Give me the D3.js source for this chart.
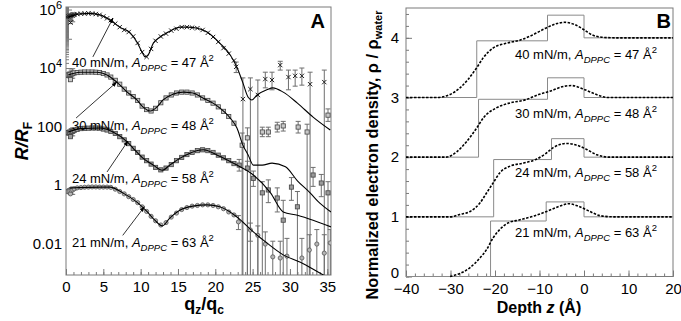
<!DOCTYPE html>
<html>
<head>
<meta charset="utf-8">
<script src="https://cdn.jsdelivr.net/npm/d3@7"></script>
<style>
  body { margin: 0; background: #fff; }
  svg { display: block; }
  text { font-family: Arial, "Liberation Sans", sans-serif; }
</style>
</head>
<body>
<svg id="chart" width="681" height="321"></svg>
<script>
// ---------- panel A : R/R_F vs qz/qc ----------
const qTicksA = [0, 5, 10, 15, 20, 25, 30, 35];
const rTicksA = [0.01, 1, 100, 1e4, 1e6];

const pressures = ["40", "30", "24", "21"];
const areas = ["47", "48", "58", "63"];

// model fits (q, R/R_F)
const fit40 = [[0.3,5.5e5],[1.9,7.1e5],[3.2,7.4e5],[4.6,6.5e5],[5.9,4.4e5],[7.2,2.5e5],[8.6,1.6e5],[9.5,7.8e4],[10.2,3.5e4],[10.6,2.4e4],[11.0,2.8e4],[11.7,7.1e4],[12.6,1.15e5],[13.9,1.8e5],[15.3,2.5e5],[16.2,2.5e5],[17.6,2.3e5],[18.9,1.7e5],[20.6,7.1e4],[22.0,2.8e4],[22.9,1.07e4],[23.7,3.1e3],[24.4,1.0e3],[24.9,810],[25.6,1.2e3],[26.9,1.8e3],[27.7,2.1e3],[29.1,1.5e3],[31.0,630],[33.1,210],[35.4,76]];
const fit30 = [[0.3,5.8e3],[1.9,7.2e3],[4.2,7.2e3],[5.5,5.8e3],[6.8,3.3e3],[8.2,1.5e3],[9.5,810],[10.3,470],[11.3,340],[12.2,470],[13.0,810],[14.4,1.3e3],[15.7,1.5e3],[17.0,1.4e3],[18.4,930],[19.7,630],[20.6,430],[22.0,195],[22.9,89],[23.7,23],[24.4,10.7],[25.1,4.8],[26.3,4.8],[27.6,5.6],[29.4,4.2],[31.0,1.4],[32.7,0.54],[34.0,0.24],[35.5,0.12]];
const fit24 = [[0.3,65],[2.0,85],[4.6,89],[6.3,65],[8.2,30],[9.0,18],[10.3,8.3],[11.7,4.8],[12.9,3.2],[13.9,4.8],[15.3,8.3],[16.6,12.3],[18.4,16],[20.2,10.7],[22.9,4.8],[25.1,2.2],[27.4,0.54],[29.1,0.12],[31.0,0.093],[33.1,0.063],[35.5,0.037]];
const fit21 = [[0.5,0.79],[4.6,0.85],[5.9,0.85],[7.6,0.54],[9.5,0.26],[10.9,0.12],[11.9,0.063],[12.9,0.040],[13.9,0.074],[15.3,0.14],[17.0,0.19],[18.9,0.21],[20.6,0.18],[22.9,0.081],[25.1,0.025],[26.9,0.0105],[29.1,0.0041],[31.4,0.0023],[34.0,0.00098],[35.5,0.0006]];

// measured points near the critical edge (q, R, low, high)
const low40 = [[0.1,5.6e5,5.2e5,6.0e5],[0.3,5.8e5,5.0e5,6.6e5],[0.5,6.0e5,4.6e5,7.0e5],[0.6,3.6e5,3.3e5,3.9e5],[0.7,6.1e5,4.2e5,7.4e5],[0.9,6.2e5,3.8e5,7.8e5],[1.1,6.6e5,6.0e5,7.2e5]];
const low30 = [[0.1,5.6e3,5.2e3,6.0e3],[0.3,5.8e3,5.0e3,6.6e3],[0.5,6.0e3,4.6e3,7.4e3],[0.6,4.0e3,3.7e3,4.4e3],[0.7,6.2e3,4.4e3,8.5e3],[0.9,6.4e3,4.5e3,9.5e3],[1.1,6.8e3,6.2e3,7.4e3]];
const low24 = [[0.1,60,56,65],[0.3,62,54,71],[0.5,64,50,76],[0.6,45,42,49],[0.7,66,48,85],[0.9,68,48,90],[1.1,74,68,80]];
const low21 = [[0.1,0.6,0.56,0.65],[0.3,0.62,0.54,0.71],[0.5,0.64,0.5,0.76],[0.6,0.5,0.47,0.54],[0.7,0.66,0.48,0.82],[0.9,0.68,0.48,0.86],[1.1,0.74,0.68,0.8]];

// measured points, mid q (q, R)
const mid40 = [[1.5,7.0e5],[2.0,7.2e5],[2.5,7.3e5],[3.0,7.4e5],[3.5,7.3e5],[4.0,7.0e5],[4.5,6.6e5],[5.0,5.8e5],[5.5,5.0e5],[6.0,4.3e5],[6.6,3.3e5],[7.2,2.5e5],[7.8,2.0e5],[8.4,1.7e5],[9.0,1.2e5],[9.6,7.2e4],[10.2,3.5e4],[10.8,2.4e4],[11.4,4.5e4],[12.0,8.5e4],[12.7,1.2e5],[13.4,1.5e5],[14.1,1.9e5],[14.8,2.2e5],[15.5,2.5e5],[16.2,2.5e5],[16.9,2.4e5],[17.6,2.3e5],[18.3,2.0e5],[19.0,1.6e5],[19.7,1.15e5],[20.4,7.8e4],[21.1,4.8e4],[21.8,3.1e4],[22.5,1.8e4]];
const mid30 = [[1.5,7.0e3],[2.0,7.2e3],[2.5,7.3e3],[3.0,7.3e3],[3.5,7.3e3],[4.0,7.2e3],[4.5,7.0e3],[5.0,6.5e3],[5.5,5.8e3],[6.0,4.9e3],[6.6,3.8e3],[7.2,2.8e3],[7.8,1.9e3],[8.4,1.4e3],[9.0,1.05e3],[9.6,780],[10.2,500],[10.8,380],[11.4,340],[12.0,420],[12.7,650],[13.4,950],[14.1,1.2e3],[14.8,1.4e3],[15.5,1.5e3],[16.2,1.5e3],[16.9,1.4e3],[17.6,1.2e3],[18.3,950],[19.0,780],[19.7,630],[20.4,470],[21.1,330],[21.8,220],[22.5,130]];
const mid24 = [[1.5,80],[2.0,85],[2.5,87],[3.0,88],[3.5,89],[4.0,89],[4.5,88],[5.0,82],[5.5,76],[6.0,68],[6.6,58],[7.2,45],[7.8,35],[8.4,26],[9.0,18],[9.6,13],[10.2,9],[10.8,6.8],[11.4,5.2],[12.0,4.0],[12.7,3.3],[13.4,3.8],[14.1,5.0],[14.8,6.8],[15.5,8.8],[16.2,11],[16.9,13],[17.6,15],[18.3,16],[19.0,15],[19.7,13],[20.4,10.5],[21.1,8.5],[21.8,6.8],[22.5,5.4]];
const mid21 = [[1.5,0.8],[2.0,0.82],[2.5,0.84],[3.0,0.85],[3.5,0.86],[4.0,0.86],[4.5,0.85],[5.0,0.85],[5.5,0.85],[6.0,0.83],[6.6,0.72],[7.2,0.6],[7.8,0.5],[8.4,0.4],[9.0,0.32],[9.6,0.25],[10.2,0.18],[10.8,0.125],[11.4,0.085],[12.0,0.06],[12.7,0.043],[13.4,0.052],[14.1,0.08],[14.8,0.11],[15.5,0.145],[16.2,0.17],[16.9,0.19],[17.6,0.2],[18.3,0.21],[19.0,0.21],[19.7,0.2],[20.4,0.18],[21.1,0.155],[21.8,0.12],[22.5,0.095]];

// measured points, high q (q, R, low, high) ; low 1e-6 = bar runs off the bottom
const high40 = [[22.8,1.1e4,7e3,1.6e4],[23.7,870,1e-6,4.6e3],[24.7,1.9e3,1e-6,4.6e3],[25.7,1.2e3,1e-6,3.9e3],[26.7,4.2e3,2.1e3,7.2e3],[27.6,3.9e3,1.8e3,7.2e3],[28.7,1.26e4,8.5e3,1.7e4],[29.8,4.9e3,1.8e3,8.5e3],[30.7,5.4e3,2.4e3,8.5e3],[31.6,5.4e3,2.6e3,1.0e4],[32.7,2.8e3,1e-6,7.2e3],[34.6,3.3e3,1e-6,8.5e3]];
const high30 = [[23.6,23,1e-6,60],[24.3,41,1e-6,90],[26.3,65,45,95],[27.1,65,45,95],[28.3,96,65,140],[29.1,105,70,150],[31.1,96,60,150],[32.3,65,1e-6,120],[35.1,245,150,400]];
const high24 = [[23.2,4.8,3.0,7.5],[24.3,3.8,1e-6,6.5],[25.1,1.7,0.9,3.0],[26.3,0.54,1e-6,1.3],[27.1,0.68,0.25,1.5],[28.3,0.36,0.12,0.8],[29.1,0.063,1e-6,0.3],[30.2,0.85,0.3,1.8],[31.0,0.18,1e-6,0.6],[33.1,2.2,0.9,4.0],[34.2,1.17,0.4,2.3],[35.1,0.54,1e-6,1.3]];
const high21 = [[23.1,0.055,0.03,0.09],[24.7,0.029,0.012,0.05],[25.7,0.019,1e-6,0.04],[26.7,0.0096,1e-6,0.025],[27.7,0.0035,1e-6,0.012],[28.7,0.0032,1e-6,0.012],[29.6,0.0037,1e-6,0.015],[31.6,0.0032,1e-6,0.015],[32.6,0.006,1e-6,0.02],[33.6,0.0096,1e-6,0.03],[34.6,0.0047,1e-6,0.02],[35.4,0.0105,1e-6,0.03]];

// label baselines and arrows (data units)
const labelPosA = [[0.8,1.07e4],[0.8,76],[0.8,1.17],[0.8,0.0076]];
const arrowsA = [[[3.6,2.4e4],[6.3,5.1e5]],[[1.35,195],[6.8,3.3e3]],[[5.5,2.8],[8.3,32]],[[7.6,0.019],[10.5,0.18]]];

// ---------- panel B : electron density profiles ----------
const zTicksB = [-40, -30, -20, -10, 0, 10, 20];
const rhoTicksB = [0, 1, 2, 3, 4];

const boxZ40 = [-40, -24.1, -8.2, 0, 20], boxRho40 = [3, 3.95, 4.38, 4.0, 4.0];
const boxZ30 = [-40, -23.7, -8.2, 0, 20], boxRho30 = [2, 2.97, 3.33, 3.0, 3.0];
const boxZ24 = [-40, -20.3, -7.3, 0, 20], boxRho24 = [1, 1.96, 2.31, 2.0, 2.0];
const boxZ21 = [-40, -21.0, -8.5, 0, 20], boxRho21 = [0, 0.93, 1.25, 1.0, 1.0];

const smooth40 = [[-40,3],[-33.1,3.0],[-30.1,3.05],[-27.9,3.16],[-26.1,3.30],[-24.1,3.50],[-22.7,3.66],[-20.4,3.83],[-17.4,3.91],[-14.4,3.96],[-11.5,4.05],[-8.4,4.17],[-6.1,4.24],[-4.3,4.26],[-2.0,4.22],[-0.1,4.14],[1.8,4.05],[4.0,4.01],[7.0,4.0],[20,4.0]];
const smooth30 = [[-40,2],[-31,2.0],[-28.6,2.09],[-26.4,2.26],[-24.1,2.49],[-22.6,2.66],[-19.6,2.83],[-16.6,2.91],[-13.2,2.96],[-10.2,3.05],[-7.9,3.10],[-4.3,3.19],[-2.8,3.2],[0.2,3.13],[2.8,3.05],[5.4,3.0],[20,3.0]];
const smooth24 = [[-40,1],[-30,1.0],[-27.9,1.04],[-25.6,1.09],[-23.4,1.23],[-21.9,1.40],[-20.4,1.57],[-18.9,1.74],[-16.6,1.85],[-13.6,1.90],[-10.6,1.97],[-8.6,2.06],[-6.9,2.16],[-3.9,2.23],[-1.6,2.20],[0.6,2.13],[2.9,2.04],[5.8,2.0],[20,2.0]];
const smooth21 = [[-30.1,0.0],[-27.9,0.05],[-25.6,0.15],[-23.4,0.31],[-21.9,0.45],[-20.4,0.65],[-18.9,0.79],[-17.0,0.90],[-14.4,0.95],[-11.4,1.01],[-8.4,1.09],[-5.4,1.18],[-3.5,1.22],[-1.3,1.18],[1.3,1.09],[3.6,1.02],[6.6,1.0],[20,1.0]];

const labelPosB = [[-15.5,3.65],[-15.5,2.66],[-15.5,1.66],[-15.5,0.67]];

// ---------- set up ----------
const svg = d3.select("#chart");
const axisColor = "#7a7a7a";

const x = d3.scaleLinear().domain([0, 35.5]).range([66, 331]);
const y = d3.scaleLog().domain([8.4e-4, 1.22e6]).range([275, 7]);

const xB = d3.scaleLinear().domain([-40, 20]).range([406, 673]);
const yB = d3.scaleLinear().domain([0, 4.5]).range([276.5, 8]);

svg.append("clipPath").attr("id", "clipA")
  .append("rect").attr("x", 66).attr("y", 7).attr("width", 265).attr("height", 268);

function styleAxis(g) {
  g.select(".domain").remove();
  g.selectAll(".tick line").attr("stroke", axisColor);
  g.selectAll("text").attr("font-size", 15).attr("fill", "#000");
}

// ---------- panel A axes ----------
svg.append("g").attr("transform", "translate(0,275)")
  .call(d3.axisBottom(x).tickValues(d3.range(0, 36, 1)).tickSize(-3).tickFormat(""))
  .call(styleAxis);
svg.append("g").attr("transform", "translate(0,275)")
  .call(d3.axisBottom(x).tickValues(qTicksA).tickSize(-6).tickPadding(6))
  .call(styleAxis);

const isDecade = v => Math.abs(Math.log10(v) - Math.round(Math.log10(v))) < 1e-6;
const minorR = y.ticks(200).filter(v => !isDecade(v));
const decades = y.ticks(200).filter(isDecade);
svg.append("g").attr("transform", "translate(66,0)")
  .call(d3.axisLeft(y).tickValues(minorR).tickSize(-3).tickFormat(""))
  .call(styleAxis);
svg.append("g").attr("transform", "translate(66,0)")
  .call(d3.axisLeft(y).tickValues(decades).tickSize(-6).tickFormat(""))
  .call(styleAxis);
const yAxA = svg.append("g").attr("transform", "translate(66,0)")
  .call(d3.axisLeft(y).tickValues(rTicksA).tickSize(0).tickPadding(4)
    .tickFormat(d => d >= 1e4 ? "" : (d >= 1 ? String(d) : "0.01")))
  .call(styleAxis);
yAxA.selectAll(".tick text").each(function (d) {
  if (d < 1e4) return;
  const t = d3.select(this);
  t.append("tspan").text("10");
  t.append("tspan").attr("font-size", 11).attr("dy", "-0.55em").text(Math.round(Math.log10(d)));
});

svg.append("rect").attr("x", 66).attr("y", 7).attr("width", 265).attr("height", 268)
  .attr("fill", "none").attr("stroke", axisColor);

// ---------- panel A marks ----------
const gA = svg.append("g").attr("clip-path", "url(#clipA)");
const fitLine = d3.line().x(d => x(d[0])).y(d => y(d[1])).curve(d3.curveMonotoneX);

const sets = [
  { fit: fit40, low: low40, mid: mid40, high: high40, mark: "x" },
  { fit: fit30, low: low30, mid: mid30, high: high30, mark: "sq" },
  { fit: fit24, low: low24, mid: mid24, high: high24, mark: "sqf" },
  { fit: fit21, low: low21, mid: mid21, high: high21, mark: "c" }
];

function errBars(g, data) {
  const bars = g.append("g").attr("stroke", "#6e6e6e").attr("stroke-width", 1);
  data.forEach(d => {
    const x0 = x(d[0]);
    const lo = d[2] < 1e-4 ? 280 : y(d[2]);
    bars.append("line").attr("x1", x0).attr("x2", x0).attr("y1", lo).attr("y2", y(d[3]));
    bars.append("line").attr("x1", x0 - 2.5).attr("x2", x0 + 2.5).attr("y1", y(d[3])).attr("y2", y(d[3]));
    if (d[2] >= 1e-4)
      bars.append("line").attr("x1", x0 - 2.5).attr("x2", x0 + 2.5).attr("y1", lo).attr("y2", lo);
  });
}

function markers(g, data, kind) {
  const mg = g.append("g");
  data.forEach(d => {
    const cx = x(d[0]), cy = y(d[1]);
    if (kind === "x") {
      mg.append("path").attr("d", d3.symbol(d3.symbolTimes, 14)())
        .attr("transform", `translate(${cx},${cy})`)
        .attr("fill", "none").attr("stroke", "#222").attr("stroke-width", 1);
    } else if (kind === "c") {
      mg.append("circle").attr("cx", cx).attr("cy", cy).attr("r", 2.1)
        .attr("fill", "#b5b5b5").attr("stroke", "#555").attr("stroke-width", 0.8);
    } else {
      mg.append("rect").attr("x", cx - 2.1).attr("y", cy - 2.1).attr("width", 4.2).attr("height", 4.2)
        .attr("fill", kind === "sqf" ? "#9a9a9a" : "#c8c8c8").attr("stroke", "#444").attr("stroke-width", 0.8);
    }
  });
}

sets.forEach(s => {
  errBars(gA, s.high);
  errBars(gA, s.low);
});
sets.forEach(s => {
  markers(gA, s.low, s.mark);
  markers(gA, s.mid, s.mark);
  markers(gA, s.high, s.mark);
  gA.append("path").datum(s.fit).attr("d", fitLine)
    .attr("fill", "none").attr("stroke", "#000").attr("stroke-width", 1.1);
});

// arrows
svg.append("defs").append("marker").attr("id", "head")
  .attr("viewBox", "0 0 10 10").attr("refX", 9).attr("refY", 5)
  .attr("markerWidth", 7).attr("markerHeight", 7).attr("orient", "auto")
  .append("path").attr("d", "M0,1.5L10,5L0,8.5Z").attr("fill", "#000");

arrowsA.forEach(a => {
  svg.append("line")
    .attr("x1", x(a[0][0])).attr("y1", y(a[0][1]))
    .attr("x2", x(a[1][0])).attr("y2", y(a[1][1]))
    .attr("stroke", "#000").attr("stroke-width", 0.8).attr("marker-end", "url(#head)");
});

function conditionLabel(px, py, p, a) {
  const t = svg.append("text").attr("x", px).attr("y", py).attr("font-size", 13).attr("fill", "#000");
  t.append("tspan").text(`${p} mN/m, `);
  t.append("tspan").attr("font-style", "italic").text("A");
  t.append("tspan").attr("font-style", "italic").attr("font-size", 9.5).attr("dy", 4).text("DPPC");
  t.append("tspan").attr("dy", -4).text(` = ${a} Å`);
  t.append("tspan").attr("font-size", 9.5).attr("dy", -6).text("2");
}

labelPosA.forEach((p, i) => conditionLabel(x(p[0]), y(p[1]), pressures[i], areas[i]));

svg.append("text").attr("x", 325).attr("y", 28).attr("text-anchor", "end")
  .attr("font-size", 20).attr("font-weight", "bold").text("A");

// axis titles A
const xtA = svg.append("text").attr("x", 204).attr("y", 310).attr("text-anchor", "middle")
  .attr("font-size", 18).attr("font-weight", "bold");
xtA.append("tspan").text("q");
xtA.append("tspan").attr("font-size", 12).attr("dy", 4).text("z");
xtA.append("tspan").attr("dy", -4).text("/q");
xtA.append("tspan").attr("font-size", 12).attr("dy", 4).text("c");

const ytA = svg.append("text").attr("transform", "translate(28,141) rotate(-90)")
  .attr("text-anchor", "middle").attr("font-size", 18).attr("font-weight", "bold");
ytA.append("tspan").attr("font-style", "italic").text("R/R");
ytA.append("tspan").attr("font-size", 12).attr("dy", 4).text("F");

// ---------- panel B axes ----------
svg.append("g").attr("transform", "translate(0,276.5)")
  .call(d3.axisBottom(xB).tickValues(d3.range(-40, 21, 2)).tickSize(-3).tickFormat(""))
  .call(styleAxis);
svg.append("g").attr("transform", "translate(0,276.5)")
  .call(d3.axisBottom(xB).tickValues(zTicksB).tickSize(-6).tickPadding(7))
  .call(styleAxis);
svg.append("g").attr("transform", "translate(406,0)")
  .call(d3.axisLeft(yB).tickValues(d3.range(0, 4.51, 0.2)).tickSize(-3).tickFormat(""))
  .call(styleAxis);
const yAxB = svg.append("g").attr("transform", "translate(406,0)")
  .call(d3.axisLeft(yB).tickValues(rhoTicksB).tickSize(-6).tickPadding(7).tickFormat(d3.format("d")))
  .call(styleAxis);
// the "0" sits just above the "-40" of the depth axis
yAxB.selectAll(".tick text").filter(d => d === 0).attr("y", -4);

svg.append("rect").attr("x", 406).attr("y", 8).attr("width", 267).attr("height", 268.5)
  .attr("fill", "none").attr("stroke", axisColor);

// ---------- panel B marks ----------
const boxes = [[boxZ40, boxRho40], [boxZ30, boxRho30], [boxZ24, boxRho24], [boxZ21, boxRho21]];
const smooths = [smooth40, smooth30, smooth24, smooth21];

const stepLine = d3.line().x(d => xB(d[0])).y(d => yB(d[1])).curve(d3.curveStepAfter);
const smoothLine = d3.line().x(d => xB(d[0])).y(d => yB(d[1])).curve(d3.curveMonotoneX);

boxes.forEach(b => {
  svg.append("path").datum(b[0].map((z, i) => [z, b[1][i]])).attr("d", stepLine)
    .attr("fill", "none").attr("stroke", "#8a8a8a").attr("stroke-width", 1);
});
smooths.forEach(s => {
  svg.append("path").datum(s).attr("d", smoothLine)
    .attr("fill", "none").attr("stroke", "#000").attr("stroke-width", 1.6)
    .attr("stroke-dasharray", "2.5,1.5");
});

labelPosB.forEach((p, i) => conditionLabel(xB(p[0]), yB(p[1]), pressures[i], areas[i]));

svg.append("text").attr("x", 671).attr("y", 28).attr("text-anchor", "end")
  .attr("font-size", 20).attr("font-weight", "bold").text("B");

const xtB = svg.append("text").attr("x", 539).attr("y", 313).attr("text-anchor", "middle")
  .attr("font-size", 16).attr("font-weight", "bold");
xtB.append("tspan").text("Depth ");
xtB.append("tspan").attr("font-style", "italic").text("z");
xtB.append("tspan").text(" (Å)");

// y title of B, sized so it runs from the bottom label row to the top of the frame
const ytB = svg.append("text").attr("transform", "translate(378,155) rotate(-90)")
  .attr("text-anchor", "middle").attr("font-size", 15).attr("font-weight", "bold");
ytB.append("tspan").text("Normalized electron density, ρ / ρ");
ytB.append("tspan").attr("font-size", 11).attr("dy", 4).text("water");
const w = ytB.node().getComputedTextLength();
if (w > 0) ytB.attr("font-size", 15 * 292 / w);
</script>
</body>
</html>
